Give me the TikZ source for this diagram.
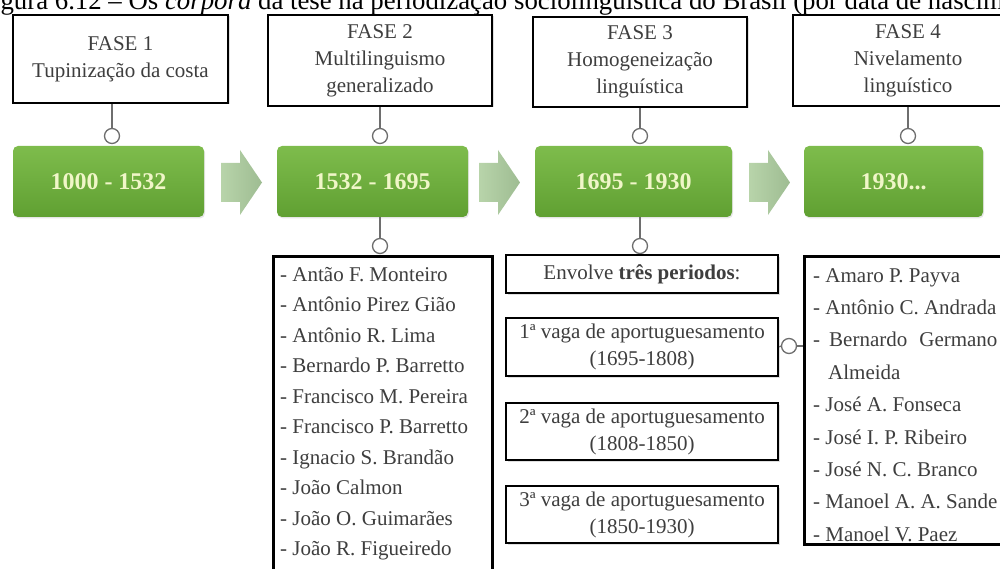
\documentclass[tikz,border=0pt]{standalone}
\usepackage{fontspec}
\setmainfont{Liberation Serif}
\usetikzlibrary{positioning,shadows}

\definecolor{verdeA}{RGB}{126,188,76}
\definecolor{verdeB}{RGB}{96,160,50}
\definecolor{setaA}{RGB}{184,212,170}
\definecolor{setaB}{RGB}{158,188,146}
\definecolor{textoP}{RGB}{240,246,200}
\definecolor{cinza}{RGB}{62,62,62}
\definecolor{liga}{RGB}{110,110,110}

\tikzset{
  caixa/.style={draw=black, line width=2.5pt, fill=white,
    drop shadow={shadow xshift=1.5pt, shadow yshift=-1.5pt, opacity=0.25}},
  fase/.style={caixa, align=center, text=cinza, inner sep=0pt,
    font=\fontsize{21}{27}\selectfont},
  vaga/.style={caixa, align=center, text=cinza, inner sep=0pt,
    minimum width=272pt, font=\fontsize{21}{27}\selectfont},
  lista/.style={align=left, text=cinza, inner sep=0pt, anchor=north west},
  periodo/.style={rounded corners=5pt, top color=verdeA, bottom color=verdeB,
    text=textoP, minimum height=71pt, font=\bfseries\fontsize{24}{28}\selectfont,
    drop shadow={shadow xshift=1pt, shadow yshift=-1.5pt, opacity=0.2}},
  seta/.style={left color=setaA, right color=setaB},
  bola/.style={circle, draw=liga, line width=1.3pt, fill=white,
    minimum size=15pt, inner sep=0pt},
  ligacao/.style={draw=liga, line width=1.3pt},
  legenda/.style={font=\fontsize{26.8}{30}\selectfont, inner sep=0pt}
}

\begin{document}
\begin{tikzpicture}[x=1pt,y=-1pt]
\useasboundingbox (0,0) rectangle (1000,569);
\clip (0,0) rectangle (1000,569);

% legenda (cortada)
\node[legenda, anchor=base west] (leg) at (-22,10) {Figura 6.12 – Os \textit{corpora} da tese na periodização sociolinguística do Brasil (por data de nascimento)};

% fases
\node[fase, minimum width=215pt, minimum height=88pt] (f1) at (120.5,59) {FASE 1\\Tupinização da costa};
\node[fase, minimum width=224pt, minimum height=91pt] (f2) at (380,60.5) {FASE 2\\Multilinguismo\\generalizado};
\node[fase, minimum width=214pt, minimum height=90pt] (f3) at (640,62) {FASE 3\\Homogeneização\\linguística};
\node[fase, minimum width=230pt, minimum height=91pt] (f4) at (908,60.5) {FASE 4\\Nivelamento\\linguístico};

% periodos
\node[periodo, minimum width=191pt] (p1) at (108.5,181.5) {1000 - 1532};
\node[periodo, minimum width=191pt] (p2) at (372.5,181.5) {1532 - 1695};
\node[periodo, minimum width=197pt] (p3) at (633.5,181.5) {1695 - 1930};
\node[periodo, minimum width=179pt] (p4) at (893.5,181.5) {1930...};

% setas
\foreach \x in {221,479,749}
  \shade[seta] (\x,163) -- ++(19,0) -- ++(0,-13) -- ++(22,32.5) -- ++(-22,32.5)
    -- ++(0,-13) -- ++(-19,0) -- cycle;

% bolas de cima
\foreach \n/\x in {1/112,2/380,3/640,4/908} {
  \draw[ligacao] (\x,0 |- f\n.south) -- (\x,128.5);
  \node[bola] (c\n) at (\x,136) {};
}

% bolas de baixo
\node[bola] (b2) at (380,246) {};
\node[bola] (b3) at (640,246) {};
\draw[ligacao] (b2 |- p2.south) -- (b2.north);
\draw[ligacao] (b3 |- p3.south) -- (b3.north);

% fase 2: nomes
\node[caixa, minimum width=219pt, minimum height=330pt, anchor=north west] (l2) at (272,255) {};
\node[lista, font=\fontsize{21}{30.5}\selectfont] (t2) at ([xshift=8pt,yshift=-12pt]l2.north west)
  {- Antão F. Monteiro\\- Antônio Pirez Gião\\- Antônio R. Lima\\- Bernardo P. Barretto\\- Francisco M. Pereira\\- Francisco P. Barretto\\- Ignacio S. Brandão\\- João Calmon\\- João O. Guimarães\\- João R. Figueiredo};

% fase 3: periodos
\node[caixa, minimum width=272pt, minimum height=38pt, text=cinza, font=\fontsize{21}{26}\selectfont] (e3) at (642,274) {Envolve \textbf{três periodos}:};
\node[vaga, minimum height=58pt] (v1) at (642,347) {1ª vaga de aportuguesamento\\(1695-1808)};
\node[vaga, minimum height=57pt] (v2) at (642,431.5) {2ª vaga de aportuguesamento\\(1808-1850)};
\node[vaga, minimum height=57pt] (v3) at (642,514.5) {3ª vaga de aportuguesamento\\(1850-1930)};

% fase 4: nomes
\node[caixa, minimum width=230pt, minimum height=288pt, anchor=north west] (l4) at (803,255) {};
\node[lista, font=\fontsize{21}{32.4}\selectfont] (t4) at ([xshift=10pt,yshift=-13pt]l4.north west)
  {- Amaro P. Payva\\- Antônio C. Andrada\\-\hspace{9pt}Bernardo\hspace{12pt}Germano\\\hspace{15pt}Almeida\\- José A. Fonseca\\- José I. P. Ribeiro\\- José N. C. Branco\\- Manoel A. A. Sande\\- Manoel V. Paez};

\node[bola] (c5) at (789,346) {};
\draw[ligacao] (v1.east) -- (c5.west);
\draw[ligacao] (c5.east) -- (c5 -| l4.west);
\end{tikzpicture}
\end{document}
